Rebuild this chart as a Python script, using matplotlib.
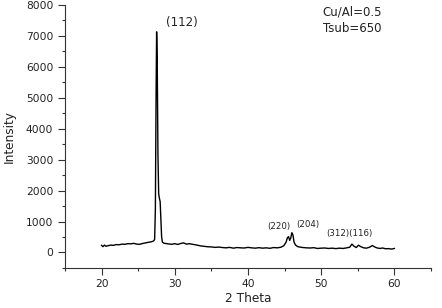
import matplotlib

matplotlib.use("Agg")
import matplotlib.pyplot as plt
import matplotlib.ticker as ticker

# XRD pattern
two_theta = [
    20.0, 20.2, 20.4, 20.6, 20.8, 21.0, 21.3, 21.6, 22.0, 22.4, 22.8, 23.2,
    23.6, 24.0, 24.4, 24.8, 25.2, 25.6, 26.0, 26.4, 26.8, 27.1, 27.25, 27.35,
    27.45, 27.52, 27.6, 27.7, 27.8, 27.9, 28.0, 28.1, 28.2, 28.3, 28.5, 28.8,
    29.2, 29.6, 30.0, 30.4, 30.8, 31.2, 31.6, 32.0, 32.4, 32.8, 33.2, 33.6,
    34.0, 34.5, 35.0, 35.5, 36.0, 36.5, 37.0, 37.5, 38.0, 38.5, 39.0, 39.5,
    40.0, 40.5, 41.0, 41.5, 42.0, 42.5, 43.0, 43.5, 44.0, 44.5, 44.9, 45.2,
    45.4, 45.55, 45.7, 45.85, 46.0, 46.15, 46.3, 46.5, 46.8, 47.1, 47.5, 48.0,
    48.5, 49.0, 49.5, 50.0, 50.5, 51.0, 51.5, 52.0, 52.5, 53.0, 53.5, 53.9,
    54.2, 54.5, 54.8, 55.1, 55.4, 55.8, 56.2, 56.6, 57.0, 57.3, 57.6, 58.0,
    58.4, 58.8, 59.2, 59.6, 60.0,
]
intensity = [
    230, 190, 240, 200, 215, 225, 240, 230, 255, 250, 270, 265,
    285, 280, 295, 270, 265, 290, 310, 330, 345, 370, 420, 1400,
    5200, 7130, 6300, 3200, 1900, 1750, 1650, 1100, 520, 340, 300, 290,
    275, 265, 285, 260, 290, 310, 270, 285, 265, 250, 230, 210,
    200, 185, 180, 165, 175, 160, 150, 165, 140, 160, 150, 145,
    165, 150, 140, 155, 140, 150, 135, 160, 150, 170, 220, 330,
    480, 510, 390, 470, 640, 560, 330, 240, 190, 175, 160, 150,
    145, 155, 130, 140, 145, 130, 140, 125, 140, 130, 150, 170,
    270, 200, 160, 235, 190, 150, 140, 170, 225, 180, 150, 130,
    145, 120, 125, 110, 130,
]

peak_labels = ["(112)", "(220)", "(204)", "(312)(116)"]
peak_label_pos = [(31.0, 7430), (44.15, 840), (48.15, 900), (53.8, 610)]
peak_label_size = [8.5, 6.2, 6.2, 6.2]

fig = plt.figure(figsize=(4.42, 3.08), dpi=100)
ax = fig.add_axes([0.147, 0.130, 0.828, 0.854])

ax.plot(two_theta, intensity, color="black", linewidth=1.0)

ax.set_xlim(15, 65)
ax.set_ylim(-500, 8000)
ax.xaxis.set_major_locator(ticker.MultipleLocator(10))
ax.xaxis.set_minor_locator(ticker.MultipleLocator(5))
ax.yaxis.set_major_locator(ticker.MultipleLocator(1000))
ax.yaxis.set_minor_locator(ticker.MultipleLocator(500))

ax.spines["top"].set_visible(False)
ax.spines["right"].set_visible(False)
for side in ("left", "bottom"):
    ax.spines[side].set_color("#333333")
    ax.spines[side].set_linewidth(0.8)

ax.tick_params(which="major", direction="out", length=5, width=0.8,
               labelsize=7.7, colors="#333333", labelcolor="#222222")
ax.tick_params(which="minor", direction="out", length=2.5, width=0.8, colors="#333333")
ax.tick_params(axis="x", which="major", pad=3)

ax.set_xlabel("2 Theta", fontsize=8.7, color="#222222", labelpad=2)
ax.set_ylabel("Intensity", fontsize=8.7, color="#222222", labelpad=7)

for text, (px, py), fs in zip(peak_labels, peak_label_pos, peak_label_size):
    ax.text(px, py, text, fontsize=fs, color="#222222", ha="center", va="center")

ax.text(50.2, 7770, "Cu/Al=0.5", fontsize=8.5, color="#222222", ha="left", va="center")
ax.text(50.2, 7250, "Tsub=650", fontsize=8.5, color="#222222", ha="left", va="center")

fig.savefig("out.png", dpi=100, facecolor="white")
